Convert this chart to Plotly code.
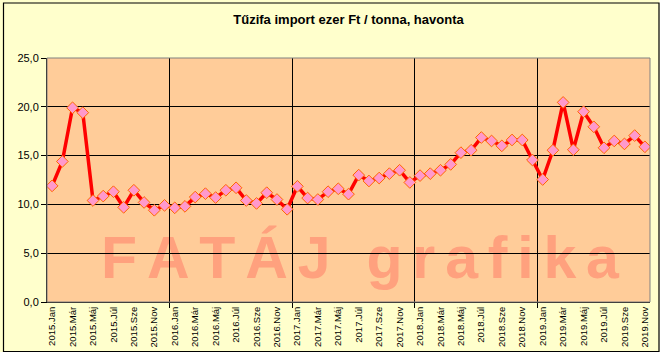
import plotly.graph_objects as go

years = [2015, 2016, 2017, 2018, 2019]
month_names = ["Jan", "Feb", "Már", "Ápr", "Máj", "Jún", "Júl", "Aug", "Sze", "Okt", "Nov", "Dec"]
categories = [f"{y}.{m}" for y in years for m in month_names][:59]

values = [11.9, 14.4, 19.9, 19.4, 10.4, 10.85, 11.3, 9.7, 11.45, 10.2, 9.4, 9.9,
          9.65, 9.8, 10.75, 11.1, 10.7, 11.45, 11.7, 10.4, 10.1, 11.2, 10.5, 9.5,
          11.85, 10.65, 10.5, 11.3, 11.6, 11.05, 13.0, 12.4, 12.7, 13.15, 13.5, 12.25,
          12.95, 13.15, 13.5, 14.1, 15.3, 15.55, 16.85, 16.5, 16.0, 16.6, 16.6, 14.55,
          12.55, 15.55, 20.45, 15.6, 19.5, 17.95, 15.8, 16.5, 16.2, 17.05, 15.9]

title_text = "Tűzifa import ezer Ft / tonna, havonta"
watermark = "FATÁJ grafika"

W, H = 664, 360
L, R, T, B = 47, 14, 58, 58
pw, ph = W - L - R, H - T - B

idx = list(range(len(values)))
tick_idx = idx[::2]
tick_txt = [categories[i] for i in tick_idx]
year_bounds = [i - 0.5 for i in idx if i > 0 and i % 12 == 0]

FONT = "Arial, Liberation Sans, sans-serif"

fig = go.Figure()
fig.add_trace(go.Scatter(
    x=idx, y=values, mode="lines+markers",
    line=dict(color="#FF0000", width=3.5),
    marker=dict(symbol="diamond", size=9, color="#FF99CC",
                line=dict(color="#FF6600", width=1)),
    hoverinfo="skip", showlegend=False,
))

def px_x(p):
    return (p - L) / pw

def px_y(p):
    return (H - B - p) / ph

# watermark: spaced letters
spaced = "\u2006".join(list(watermark))
cx, cy = 360, 252
shapes = [
    dict(type="rect", xref="paper", yref="paper",
         x0=px_x(cx - 290), x1=px_x(cx + 290), y0=px_y(cy + 30), y1=px_y(cy - 30),
         line=dict(width=0), fillcolor="rgba(0,0,0,0)", layer="below",
         label=dict(text="<b>" + spaced + "</b>", textposition="middle center",
                    font=dict(family=FONT, size=59, color="#FFA17E"))),
    # plot area border (top/right gray)
    dict(type="rect", xref="paper", yref="paper", x0=0, x1=1, y0=0, y1=1,
         line=dict(color="#808080", width=1), layer="above"),
    # outer white strips
    dict(type="rect", xref="paper", yref="paper",
         x0=px_x(659.5), x1=px_x(W + 2), y0=px_y(H + 2), y1=px_y(-2),
         line=dict(width=0), fillcolor="white", layer="above"),
    dict(type="rect", xref="paper", yref="paper",
         x0=px_x(-2), x1=px_x(W + 2), y0=px_y(H + 2), y1=px_y(352),
         line=dict(width=0), fillcolor="white", layer="above"),
    # outer chart border
    dict(type="rect", xref="paper", yref="paper",
         x0=px_x(3.5), x1=px_x(659), y0=px_y(351.5), y1=px_y(3),
         line=dict(color="black", width=1.2), layer="above"),
]

fig.update_layout(
    width=W, height=H,
    margin=dict(l=L, r=R, t=T, b=B, pad=0, autoexpand=False),
    paper_bgcolor="#FFFFCC",
    plot_bgcolor="#FFCC99",
    separators=", ",
    font=dict(family=FONT, color="black"),
    title=dict(text="<b>" + title_text + "</b>", x=0.5, xref="paper", xanchor="center",
               y=1 - 19 / H, yref="container", yanchor="middle",
               font=dict(family="Liberation Sans Narrow, Arial Narrow, sans-serif",
                         size=13, color="black")),
    shapes=shapes,
    xaxis=dict(
        range=[-0.5, len(values) - 0.5],
        tickmode="array", tickvals=tick_idx, ticktext=tick_txt,
        tickangle=-90, ticks="", showgrid=False, automargin=False,
        tickfont=dict(family=FONT, size=9.5, color="black"),
        showline=True, linecolor="black", linewidth=1,
        zeroline=False,
        minor=dict(tickmode="array", tickvals=year_bounds, ticks="outside",
                   ticklen=5, tickcolor="black", tickwidth=1,
                   showgrid=True, gridcolor="black", gridwidth=1),
        fixedrange=True,
    ),
    yaxis=dict(
        range=[0, 25], tickmode="linear", tick0=0, dtick=5,
        tickformat=".1f", ticks="outside", ticklen=5, tickcolor="black",
        showgrid=True, gridcolor="black", gridwidth=1, automargin=False,
        showline=True, linecolor="black", linewidth=1,
        zeroline=False,
        tickfont=dict(family=FONT, size=11, color="black"),
        fixedrange=True,
    ),
)

fig.write_html("out.html", config={"displayModeBar": False},
               post_script="document.body.style.margin='0';document.body.style.background='white';")
